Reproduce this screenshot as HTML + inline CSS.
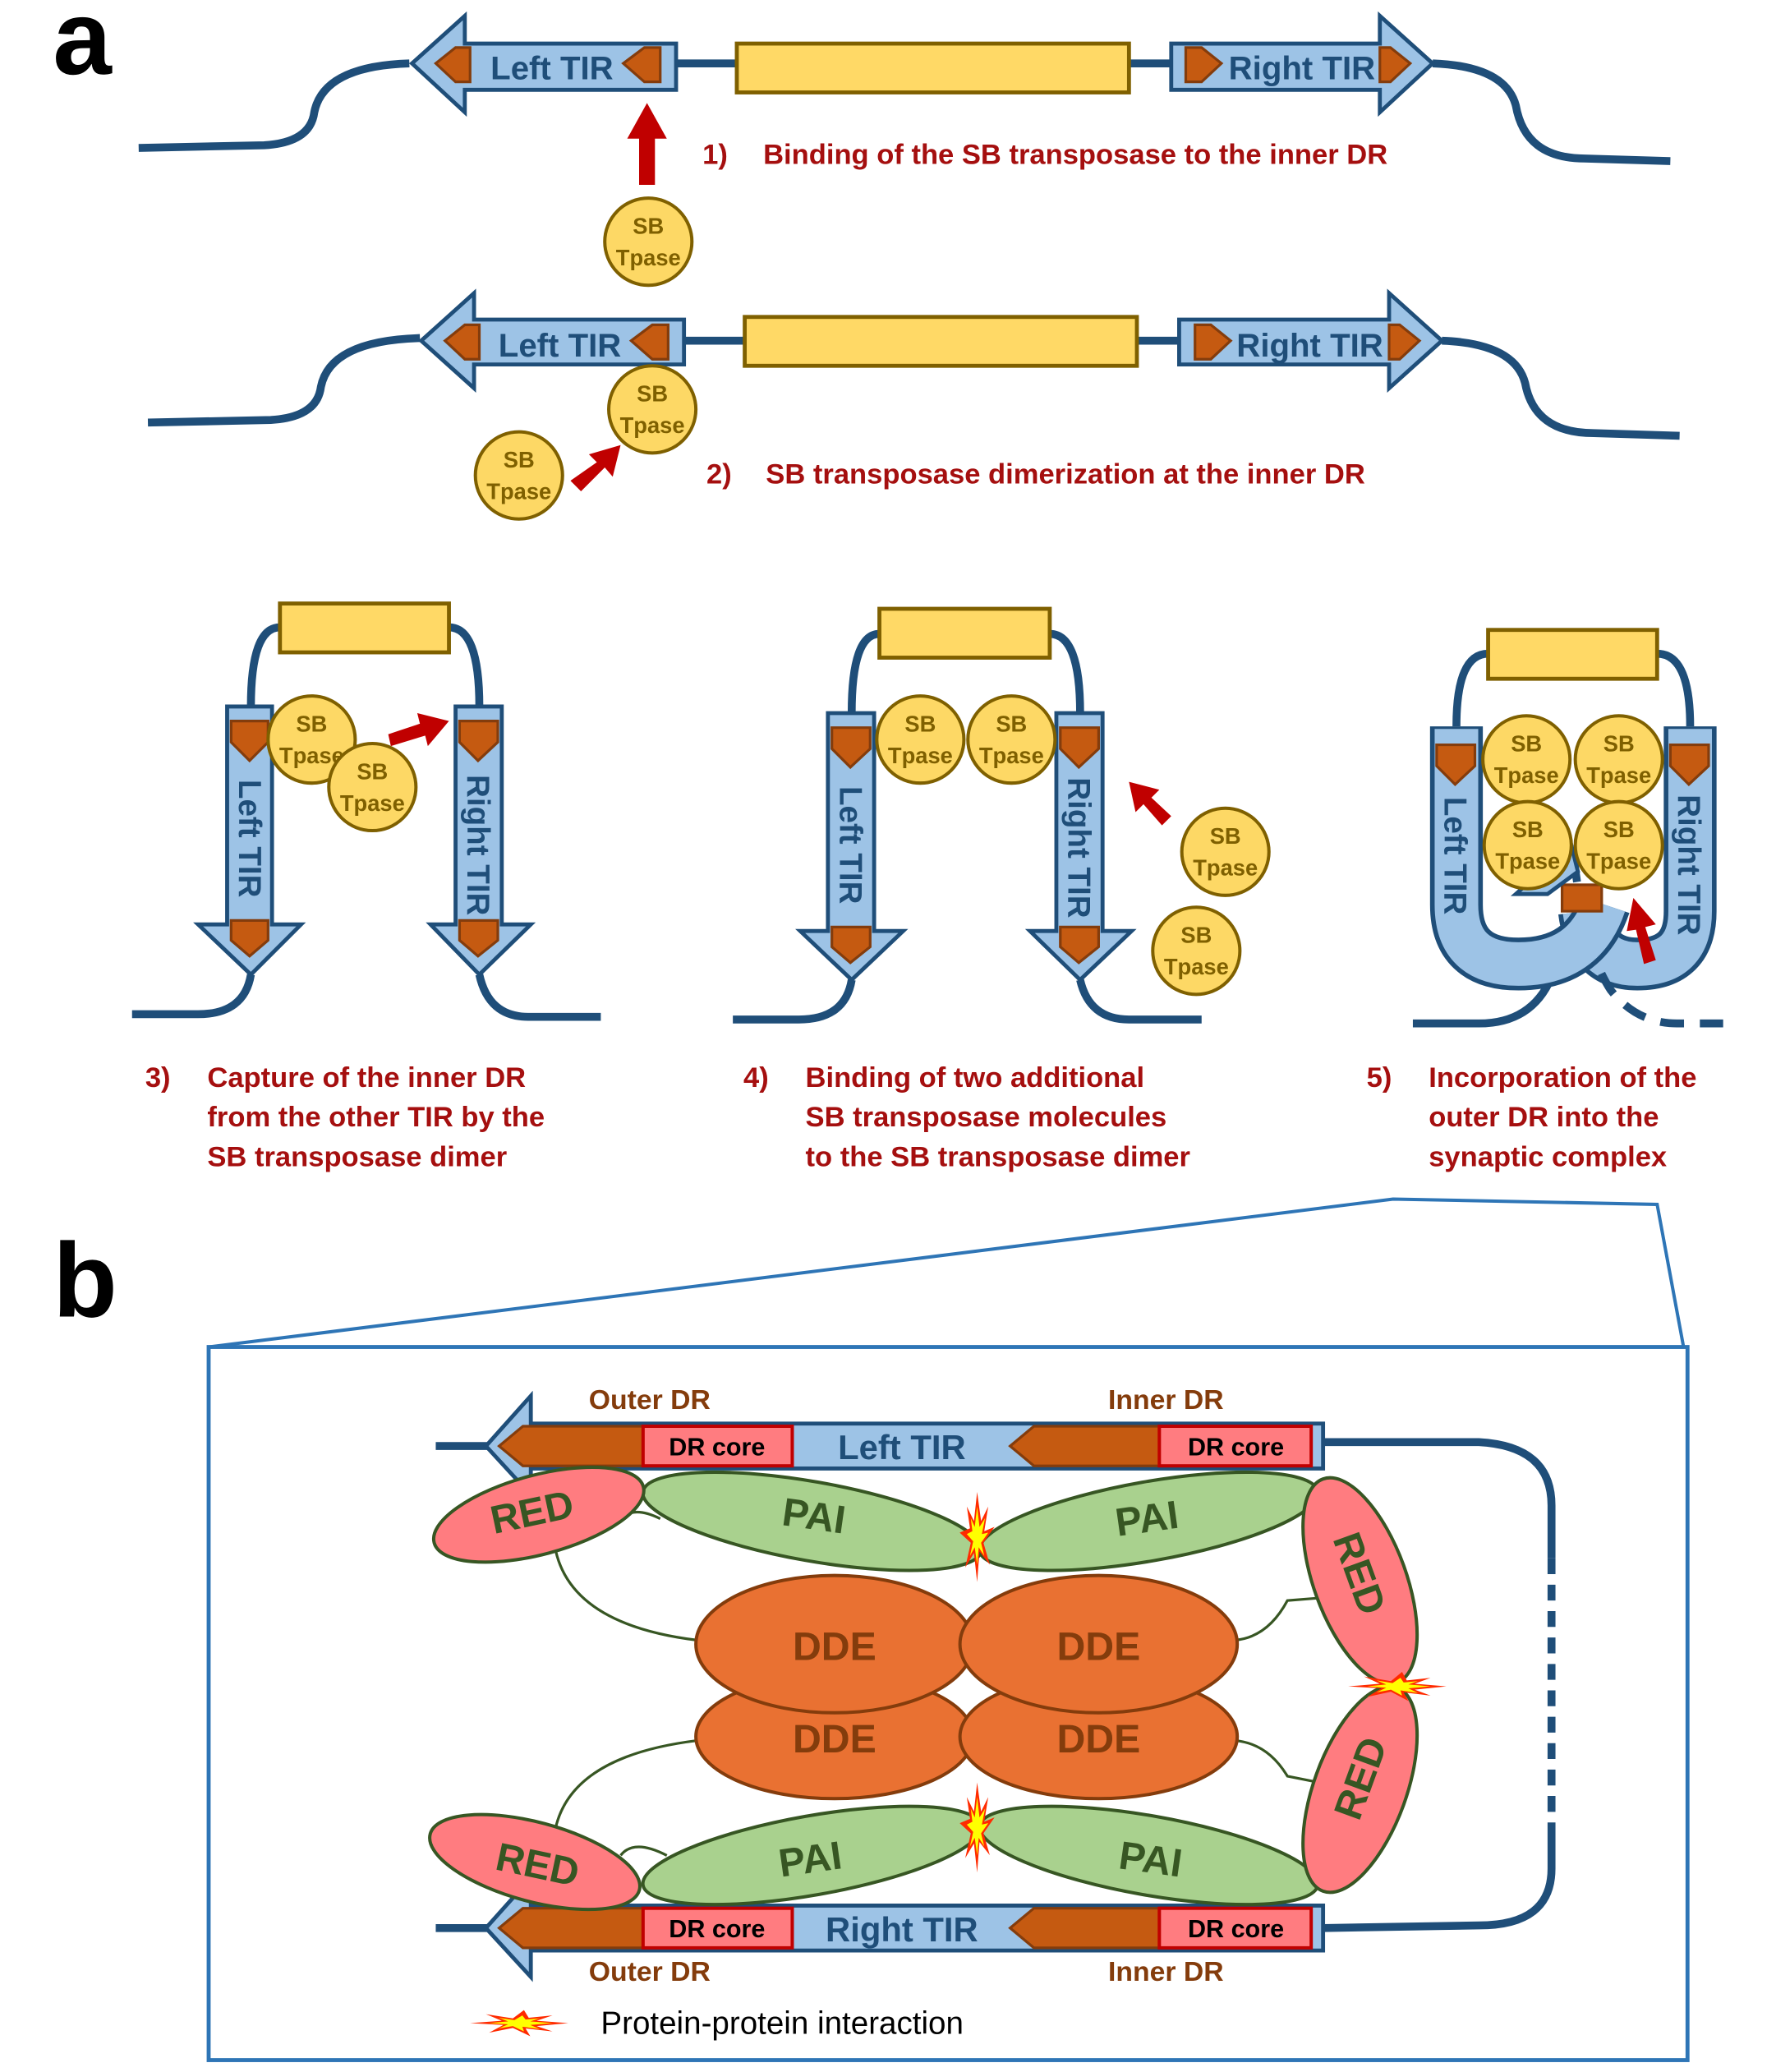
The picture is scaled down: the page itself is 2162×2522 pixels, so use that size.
<!DOCTYPE html>
<html><head><meta charset="utf-8"><style>html,body{margin:0;padding:0;background:#fff}svg{display:block}</style></head>
<body>
<svg width="2162" height="2522" viewBox="0 0 1345 1569" xmlns="http://www.w3.org/2000/svg" font-family="Liberation Sans, sans-serif">
<defs>
<g id="sb"><circle r="33" fill="#fdd865" stroke="#7f6000" stroke-width="2.5"/><text y="-6" text-anchor="middle" font-size="17" fill="#7f6000" font-weight="bold">SB</text><text y="18" text-anchor="middle" font-size="17" fill="#7f6000" font-weight="bold">Tpase</text></g>
<g id="star"><polygon points="0,-32 5,-12 14,-22 9,-5 22,-8 8,3 16,18 3,9 0,30 -4,10 -15,20 -8,3 -22,-4 -9,-7 -13,-22 -4,-12" fill="#ff2a00"/><polygon points="0,-22 3,-8 10,-14 6,-3 14,-4 5,3 9,12 2,6 0,18 -3,6 -9,12 -5,2 -13,-3 -6,-5 -8,-14 -3,-8" fill="#ffff00"/></g>
</defs>
<g stroke="#1f4e79" stroke-width="6" fill="none">
<path d="M105,112 L200,110 Q235,108 238,85 Q245,50 310,48"/>
<path d="M512,48 L558,48 M855,48 L887,48"/>
<path d="M1085,48 Q1140,50 1148,80 Q1155,120 1200,120 L1265,122"/>
<path d="M112,320 L205,318 Q240,316 243,293 Q250,258 318,256"/>
<path d="M518,258 L564,258 M861,258 L893,258"/>
<path d="M1092,258 Q1147,260 1155,290 Q1162,328 1207,328 L1272,330"/>
<path d="M190,535 Q190,475 212,475 M340,475 Q363,475 363,535"/>
<path d="M190,738 Q185,768 150,768 L100,768 M363,738 Q370,770 400,770 L455,770"/>
<path d="M645,540 Q645,480 666,480 M795,480 Q818,480 818,540"/>
<path d="M645,742 Q640,772 605,772 L555,772 M818,742 Q825,772 855,772 L910,772"/>
<path d="M1103,550 Q1103,495 1127,495 M1255,495 Q1280,495 1280,550"/>
<path d="M1175,740 Q1160,775 1120,775 L1070,775"/>
</g>
<!-- Row1 TIRs -->
<g stroke="#1f4e79" stroke-width="3" fill="#9dc3e6">
<polygon points="312,48 352,12 352,33 512,33 512,68 352,68 352,85"/>
<polygon points="1085,48 1045,12 1045,33 887,33 887,68 1045,68 1045,85"/>
<polygon points="319,258 359,222 359,242 518,242 518,276 359,276 359,294"/>
<polygon points="1092,258 1052,222 1052,242 893,242 893,276 1052,276 1052,294"/>
</g>
<g fill="#c55a11" stroke="#843c0c" stroke-width="2">
<polygon points="330,48 345,36 356,36 356,62 345,62"/><polygon points="472,48 488,36 500,36 500,62 488,62"/>
<polygon points="925,48 910,36 898,36 898,62 910,62"/><polygon points="1068,48 1053,36 1045,36 1045,62 1053,62"/>
<polygon points="337,258 352,246 363,246 363,272 352,272"/><polygon points="478,258 494,246 506,246 506,272 494,272"/>
<polygon points="932,258 917,246 905,246 905,272 917,272"/><polygon points="1075,258 1060,246 1052,246 1052,272 1060,272"/>
</g>
<g font-size="25" font-weight="bold" fill="#1f4e79"><text x="418" y="60" text-anchor="middle">Left TIR</text><text x="986" y="60" text-anchor="middle">Right TIR</text><text x="424" y="270" text-anchor="middle">Left TIR</text><text x="992" y="270" text-anchor="middle">Right TIR</text></g>
<g fill="#ffd966" stroke="#7f6000" stroke-width="3"><rect x="558" y="33" width="297" height="37"/><rect x="564" y="240" width="297" height="37"/><rect x="212" y="457" width="128" height="37"/><rect x="666" y="461" width="129" height="37"/><rect x="1127" y="477" width="128" height="37"/></g>
<g font-size="21.5" font-weight="bold" fill="#a50f0f">
<text x="532" y="124">1)</text><text x="578" y="124">Binding of the SB transposase to the inner DR</text>
<text x="535" y="366">2)</text><text x="580" y="366">SB transposase dimerization at the inner DR</text>
<text x="110" y="823">3)</text><text x="157" y="823">Capture of the inner DR</text><text x="157" y="853">from the other TIR by the</text><text x="157" y="883">SB transposase dimer</text>
<text x="563" y="823">4)</text><text x="610" y="823">Binding of two additional</text><text x="610" y="853">SB transposase molecules</text><text x="610" y="883">to the SB transposase dimer</text>
<text x="1035" y="823">5)</text><text x="1082" y="823">Incorporation of the</text><text x="1082" y="853">outer DR into the</text><text x="1082" y="883">synaptic complex</text>
</g>
<g fill="#c00000"><polygon points="484,140 496,140 496,105 505,105 490,78 475,105 484,105"/>
<polygon points="432,364 440,372 458,354 464,361 470,337 446,344 452,350"/>
<polygon points="294,556 296,565 322,557 324,565 340,546 316,540 318,548"/>
<polygon points="887,618 880,625 866,609 860,615 855,592 878,598 872,604"/></g>
<!-- vertical TIRs -->
<g stroke="#1f4e79" stroke-width="3" fill="#9dc3e6">
<polygon points="172,535 206,535 206,700 228,700 190,738 150,700 172,700"/>
<polygon points="345,535 380,535 380,700 402,700 363,738 326,700 345,700"/>
<polygon points="627,540 662,540 662,705 684,705 645,742 606,705 627,705"/>
<polygon points="800,540 835,540 835,705 857,705 818,742 780,705 800,705"/>
</g>
<!-- panel 5 U shapes -->
<path d="M1280,550 L1280,690 Q1280,730 1240,730 Q1205,730 1200,690" fill="none" stroke="#1f4e79" stroke-width="40"/>
<path d="M1280,552 L1280,690 Q1280,730 1240,730 Q1205,730 1200,690" fill="none" stroke="#9dc3e6" stroke-width="33"/>
<path d="M1192,650 Q1200,720 1220,750 Q1240,775 1270,775 L1305,775" fill="none" stroke="#1f4e79" stroke-width="6" stroke-dasharray="18,12"/>
<path d="M1103,550 L1103,685 Q1103,730 1150,730 Q1200,730 1215,685" fill="none" stroke="#1f4e79" stroke-width="40"/>
<path d="M1103,552 L1103,685 Q1103,730 1150,730 Q1200,730 1215,685" fill="none" stroke="#9dc3e6" stroke-width="33"/>
<g fill="#c55a11" stroke="#843c0c" stroke-width="2">
<polygon points="175,546 203,546 203,562 189,576 175,562"/><polygon points="175,697 203,697 203,712 189,724 175,712"/>
<polygon points="348,546 377,546 377,562 362,576 348,562"/><polygon points="348,697 377,697 377,712 362,724 348,712"/>
<polygon points="630,551 659,551 659,567 644,581 630,567"/><polygon points="630,702 659,702 659,717 644,729 630,717"/>
<polygon points="803,551 832,551 832,567 817,581 803,567"/><polygon points="803,702 832,702 832,717 817,729 803,717"/>
<polygon points="1088,564 1117,564 1117,580 1102,594 1088,580"/><polygon points="1265,564 1294,564 1294,580 1279,594 1265,580"/>
<rect x="1183" y="670" width="30" height="20"/>
</g>
<polygon points="1148,677 1190,640 1195,660 1172,677" fill="#9dc3e6" stroke="#1f4e79" stroke-width="3"/>
<polygon points="1245,730 1254,727 1246,702 1254,700 1237,680 1232,705 1239,704" fill="#c00000"/>
<g font-size="24" font-weight="bold" fill="#1f4e79">
<text transform="translate(181,635) rotate(90)" text-anchor="middle">Left TIR</text><text transform="translate(354,640) rotate(90)" text-anchor="middle">Right TIR</text>
<text transform="translate(636,640) rotate(90)" text-anchor="middle">Left TIR</text><text transform="translate(809,642) rotate(90)" text-anchor="middle">Right TIR</text>
<text transform="translate(1094,648) rotate(90)" text-anchor="middle">Left TIR</text><text transform="translate(1271,655) rotate(90)" text-anchor="middle">Right TIR</text>
</g>
<use href="#sb" x="491" y="183"/><use href="#sb" x="494" y="310"/><use href="#sb" x="393" y="360"/>
<use href="#sb" x="236" y="560"/><use href="#sb" x="282" y="596"/>
<use href="#sb" x="697" y="560"/><use href="#sb" x="766" y="560"/><use href="#sb" x="928" y="645"/><use href="#sb" x="906" y="720"/>
<use href="#sb" x="1156" y="575"/><use href="#sb" x="1226" y="575"/><use href="#sb" x="1157" y="640"/><use href="#sb" x="1226" y="640"/>
<g font-size="80" font-weight="bold" fill="#000"><text x="40" y="56">a</text><text x="40" y="997">b</text></g>
<!-- part b -->
<polyline points="158,1020 1055,908 1255,912 1275,1020" fill="none" stroke="#2e75b6" stroke-width="2.5"/>
<rect x="158" y="1020" width="1120" height="540" fill="none" stroke="#2e75b6" stroke-width="3"/>
<g stroke="#1f4e79" stroke-width="6" fill="none"><path d="M330,1095 L370,1095 M330,1460 L370,1460"/>
<path d="M1002,1092 L1120,1092 Q1175,1095 1175,1140 L1175,1180 M1175,1380 L1175,1415 Q1175,1458 1120,1458 L1002,1460"/>
<path d="M1175,1180 L1175,1380" stroke-dasharray="12,8"/></g>
<g stroke="#1f4e79" stroke-width="3" fill="#9dc3e6">
<polygon points="368,1095 402,1057 402,1078 1002,1078 1002,1112 402,1112 402,1132"/>
<polygon points="368,1460 402,1422 402,1443 1002,1443 1002,1477 402,1477 402,1497"/></g>
<g fill="#c55a11" stroke="#843c0c" stroke-width="2">
<polygon points="378,1095 396,1080 487,1080 487,1110 396,1110"/><polygon points="765,1095 783,1080 878,1080 878,1110 783,1110"/>
<polygon points="378,1460 396,1445 487,1445 487,1475 396,1475"/><polygon points="765,1460 783,1445 878,1445 878,1475 783,1475"/></g>
<g fill="#ff7c80" stroke="#c00000" stroke-width="2.5"><rect x="487" y="1080" width="113" height="30"/><rect x="878" y="1080" width="115" height="30"/><rect x="487" y="1445" width="113" height="30"/><rect x="878" y="1445" width="115" height="30"/></g>
<g font-size="19" font-weight="bold" fill="#000" text-anchor="middle"><text x="543" y="1102">DR core</text><text x="936" y="1102">DR core</text><text x="543" y="1467">DR core</text><text x="936" y="1467">DR core</text></g>
<g font-size="26" font-weight="bold" fill="#1f4e79" text-anchor="middle"><text x="683" y="1105">Left TIR</text><text x="683" y="1470">Right TIR</text></g>
<g font-size="21" font-weight="bold" fill="#843c0c" text-anchor="middle"><text x="492" y="1067">Outer DR</text><text x="883" y="1067">Inner DR</text><text x="492" y="1500">Outer DR</text><text x="883" y="1500">Inner DR</text></g>
<g fill="none" stroke="#375623" stroke-width="2"><path d="M420,1170 Q430,1230 528,1242"/><path d="M935,1242 Q960,1240 975,1212 L1000,1210"/><path d="M420,1388 Q430,1330 528,1318"/><path d="M935,1318 Q960,1320 975,1345 L1000,1350"/><path d="M470,1150 Q480,1140 500,1150"/><path d="M470,1405 Q480,1392 505,1405"/></g>
<g fill="#e97132" stroke="#843c0c" stroke-width="2.5">
<ellipse cx="632" cy="1315" rx="105" ry="47"/><ellipse cx="832" cy="1315" rx="105" ry="47"/>
<ellipse cx="632" cy="1245" rx="105" ry="52"/><ellipse cx="832" cy="1245" rx="105" ry="52"/></g>
<g fill="#a9d18e" stroke="#375623" stroke-width="2.5">
<ellipse cx="615" cy="1152" rx="130" ry="30" transform="rotate(10 615 1152)"/><ellipse cx="870" cy="1152" rx="130" ry="30" transform="rotate(-10 870 1152)"/>
<ellipse cx="615" cy="1405" rx="130" ry="30" transform="rotate(-10 615 1405)"/><ellipse cx="870" cy="1405" rx="130" ry="30" transform="rotate(10 870 1405)"/></g>
<g fill="#ff7c80" stroke="#375623" stroke-width="2.5">
<ellipse cx="408" cy="1147" rx="82" ry="30" transform="rotate(-15 408 1147)"/><ellipse cx="405" cy="1410" rx="82" ry="30" transform="rotate(15 405 1410)"/>
<ellipse cx="1030" cy="1197" rx="35" ry="82" transform="rotate(-20 1030 1197)"/><ellipse cx="1030" cy="1355" rx="35" ry="82" transform="rotate(20 1030 1355)"/></g>
<g font-size="30" font-weight="bold" fill="#375623" text-anchor="middle">
<text transform="translate(405,1155) rotate(-12)">RED</text><text transform="translate(405,1422) rotate(12)">RED</text>
<text transform="translate(1020,1195) rotate(70)">RED</text><text transform="translate(1040,1350) rotate(-70)">RED</text>
<text transform="translate(615,1158) rotate(8)">PAI</text><text transform="translate(870,1160) rotate(-8)">PAI</text>
<text transform="translate(615,1418) rotate(-8)">PAI</text><text transform="translate(870,1418) rotate(8)">PAI</text></g>
<g font-size="30" font-weight="bold" fill="#843c0c" text-anchor="middle"><text x="632" y="1257">DDE</text><text x="832" y="1257">DDE</text><text x="632" y="1327">DDE</text><text x="832" y="1327">DDE</text></g>
<use href="#star" transform="translate(740,1165) scale(0.6,1.1)"/><use href="#star" transform="translate(740,1385) scale(0.6,1.1)"/>
<use href="#star" transform="translate(1057,1277) rotate(90) scale(0.5,1.2)"/><use href="#star" transform="translate(392,1532) rotate(90) scale(0.45,1.2)"/>
<text x="455" y="1540" font-size="24" fill="#000">Protein-protein interaction</text>
</svg>
</body></html>
